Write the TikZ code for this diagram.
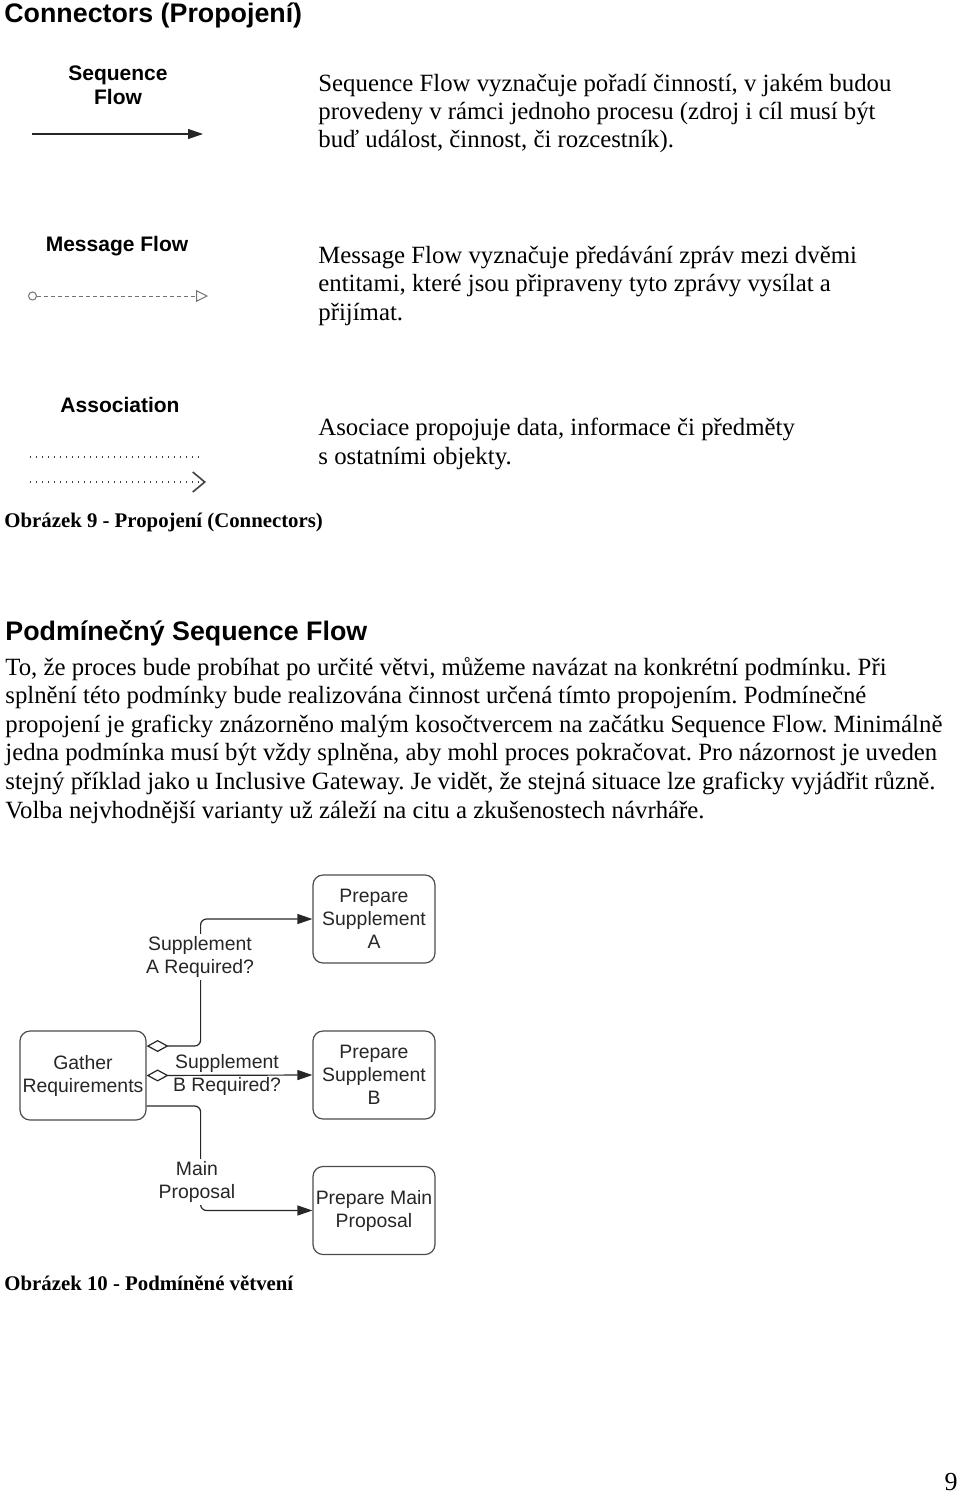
\documentclass[tikz,border=0pt]{standalone}
\usepackage{fontspec}
\setmainfont{Liberation Serif}
\newfontfamily\arialfont{Liberation Sans}
\usetikzlibrary{arrows.meta,positioning}
\frenchspacing

\tikzset{
  bodytext/.style={anchor=base west, inner sep=0pt, font=\fontsize{12.4}{14}\selectfont},
  heading/.style={anchor=base west, inner sep=0pt, font=\arialfont\bfseries\fontsize{13.4}{16}\selectfont},
  caption/.style={anchor=base west, inner sep=0pt, font=\bfseries\fontsize{10.4}{12}\selectfont},
  iconlabel/.style={align=center, inner sep=0pt, font=\arialfont\bfseries\fontsize{10.5}{12}\selectfont},
  task/.style={draw=black!70, line width=0.6pt, rounded corners=5pt, minimum width=61pt,
    minimum height=44pt, align=center, inner sep=0pt, text=black!85,
    font=\arialfont\fontsize{9.7}{11.5}\selectfont},
  flowlabel/.style={align=center, inner sep=1pt, text=black!85,
    font=\arialfont\fontsize{9.7}{11.5}\selectfont},
  seqflow/.style={draw=black!85, line width=0.6pt, rounded corners=3pt,
    -{Triangle[length=7.5pt,width=5pt]}},
  condflow/.style={seqflow,
    {Diamond[open,length=11pt,width=6pt]}-{Triangle[length=7.5pt,width=5pt]}},
  msgflow/.style={draw=black!55, line width=0.5pt, dash pattern=on 2pt off 1.5pt,
    {Circle[open,length=4.5pt]}-{Triangle[open,length=6pt,width=6pt]}},
  assoc/.style={draw=black!75, line width=0.6pt, dash pattern=on 0.6pt off 2.4pt}
}

\begin{document}
\begin{tikzpicture}[x=0.5pt,y=-0.5pt]
  \useasboundingbox (0,0) rectangle (960,1494);

  % connectors
  \node[heading] (title) at (4,22) {Connectors (Propojení)};

  \node[iconlabel] (seqlabel) at (118,85) {Sequence\\Flow};
  \coordinate (seqstart) at (32,134);
  \coordinate (seqend) at (203,134);
  \draw[seqflow]
    (seqstart)
    --
    (seqend);
  \node[bodytext] (seqtxt1) at (318,91) {Sequence Flow vyznačuje pořadí činností, v jakém budou};
  \node[bodytext] (seqtxt2) at (318,119) {provedeny v rámci jednoho procesu (zdroj i cíl musí být};
  \node[bodytext] (seqtxt3) at (318,147) {buď událost, činnost, či rozcestník).};

  \node[iconlabel] (msglabel) at (117,246) {Message Flow};
  \coordinate (msgstart) at (28,296);
  \coordinate (msgend) at (208,296);
  \draw[msgflow]
    (msgstart)
    --
    (msgend);
  \node[bodytext] (msgtxt1) at (318,263) {Message Flow vyznačuje předávání zpráv mezi dvěmi};
  \node[bodytext] (msgtxt2) at (318,291) {entitami, které jsou připraveny tyto zprávy vysílat a};
  \node[bodytext] (msgtxt3) at (318,320) {přijímat.};

  \node[iconlabel] (assoclabel) at (120,405) {Association};
  \coordinate (assocstart) at (30,457);
  \coordinate (assocend) at (203,457);
  \coordinate (dirstart) at (30,482);
  \coordinate (dirend) at (206,482);
  \draw[assoc]
    (assocstart)
    --
    (assocend);
  \draw[assoc,-{Straight Barb[length=6pt,width=10pt,line width=0.8pt]}]
    (dirstart)
    --
    (dirend);
  \node[bodytext] (assoctxt1) at (318,435) {Asociace propojuje data, informace či předměty};
  \node[bodytext] (assoctxt2) at (318,464) {s ostatními objekty.};

  \node[caption] (cap9) at (4,527) {Obrázek 9 - Propojení (Connectors)};

  % podminecny sequence flow
  \node[heading] (subtitle) at (5,640) {Podmínečný Sequence Flow};
  \node[bodytext] (par1) at (5,675) {To, že proces bude probíhat po určité větvi, můžeme navázat na konkrétní podmínku. Při};
  \node[bodytext] (par2) at (5,703) {splnění této podmínky bude realizována činnost určená tímto propojením. Podmínečné};
  \node[bodytext] (par3) at (5,732) {propojení je graficky znázorněno malým kosočtvercem na začátku Sequence Flow. Minimálně};
  \node[bodytext] (par4) at (5,760) {jedna podmínka musí být vždy splněna, aby mohl proces pokračovat. Pro názornost je uveden};
  \node[bodytext] (par5) at (5,789) {stejný příklad jako u Inclusive Gateway. Je vidět, že stejná situace lze graficky vyjádřit různě.};
  \node[bodytext] (par6) at (5,818) {Volba nejvhodnější varianty už záleží na citu a zkušenostech návrháře.};

  % diagram
  \node[task,minimum width=63pt,minimum height=44.5pt] (gather) at (83,1075.5) {Gather\\Requirements};
  \node[task] (prepA) at (374,919) {Prepare\\Supplement\\A};
  \node[task] (prepB) at (374,1075) {Prepare\\Supplement\\B};
  \node[task] (prepM) at (374,1210.5) {Prepare Main\\Proposal};

  \draw[condflow]
    ([yshift=14.75pt]gather.east)
    --
    ++(54,0)
    |-
    (prepA.west);
  \draw[condflow]
    (gather.east)
    --
    (prepB.west);
  \draw[seqflow]
    ([yshift=-15.25pt]gather.east)
    --
    ++(54,0)
    |-
    (prepM.west);
  \node[flowlabel,fill=white] (condA) at (200,957) {Supplement\\A Required?};
  \node[flowlabel] (condB) at (227,1075) {Supplement\\B Required?};
  \node[flowlabel,fill=white] (mainlabel) at (197,1182) {Main\\Proposal};

  \node[caption] (cap10) at (4,1290) {Obrázek 10 - Podmíněné větvení};

  \node[anchor=base east,inner sep=0pt,font=\fontsize{13}{14}\selectfont] (pagenum) at (958,1490) {9};
\end{tikzpicture}
\end{document}
